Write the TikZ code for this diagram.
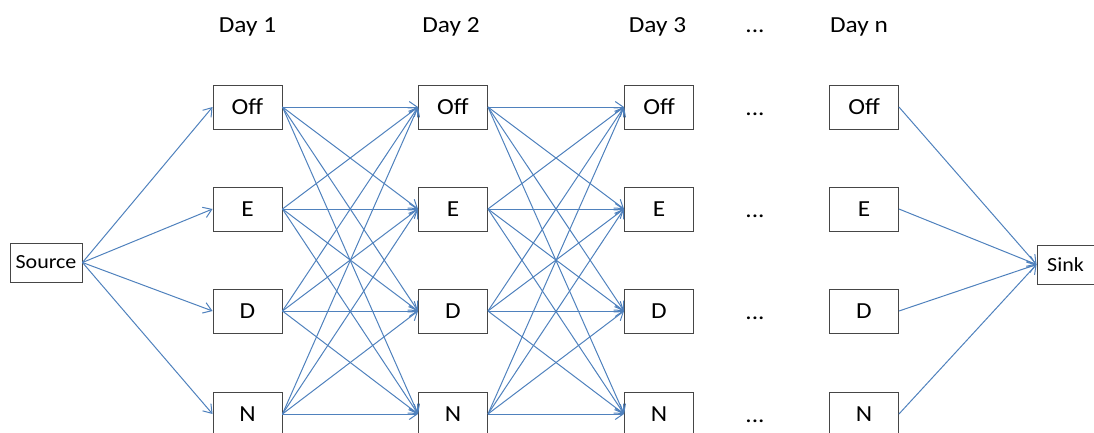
\documentclass[tikz,border=0pt]{standalone}
\usepackage{fontspec}
\setmainfont{Carlito}[FakeStretch=1.1]
\usetikzlibrary{arrows.meta}
\definecolor{edgeblue}{RGB}{79,129,189}
\definecolor{boxgray}{RGB}{70,70,70}
\tikzset{
  statebox/.style={draw=boxgray, line width=0.9pt, fill=white, minimum width=69pt, minimum height=44pt, inner sep=0pt, font=\fontsize{23}{27}\selectfont},
  endbox/.style={draw=boxgray, line width=0.9pt, fill=white, minimum height=39pt, inner sep=0pt, font=\fontsize{20}{24}\selectfont},
  daylabel/.style={anchor=base, font=\fontsize{23}{27}\selectfont},
  flow/.style={draw=edgeblue, line width=1pt, -{Straight Barb[length=8pt,width=11pt,line width=1pt]}}
}
\begin{document}
\begin{tikzpicture}[x=1pt,y=-1pt]
\useasboundingbox (0,0) rectangle (1094,432);
\clip (0,0) rectangle (1094,432);
% headers
\node[daylabel] (h1) at (247.5,32) {Day 1};
\node[daylabel] (h2) at (451,32) {Day 2};
\node[daylabel] (h3) at (657.5,32) {Day 3};
\node[daylabel] (hd) at (755,32) {...};
\node[daylabel] (hn) at (859,32) {Day n};
% source and sink
\node[endbox, minimum width=72pt] (src) at (46,262.5) {Source};
\node[endbox, minimum width=57pt] (sink) at (1065.5,264.5) {Sink};
% state columns
\foreach \c/\x in {1/247.5,2/453,3/659,4/864}{
  \node[statebox] (off\c) at (\x,107) {Off};
  \node[statebox] (e\c) at (\x,209) {E};
  \node[statebox] (d\c) at (\x,311) {D};
  \node[statebox] (n\c) at (\x,414) {N};
}
% dots
\foreach \r/\y in {1/107,2/209,3/311,4/414}{
  \node[daylabel] (dots\r) at (755,\y+8) {...};
}
% source edges
\foreach \t in {off1,e1,d1,n1}{
  \draw[flow] (src.east) -- (\t.west);
}
% day-to-day edges
\foreach \a/\b in {1/2,2/3}{
  \foreach \s in {off,e,d,n}{
    \foreach \t in {off,e,d,n}{
      \draw[flow] (\s\a.east) -- (\t\b.west);
    }
  }
}
% sink edges
\foreach \s in {off4,e4,d4,n4}{
  \draw[flow] (\s.east) -- (sink.west);
}
\end{tikzpicture}
\end{document}
